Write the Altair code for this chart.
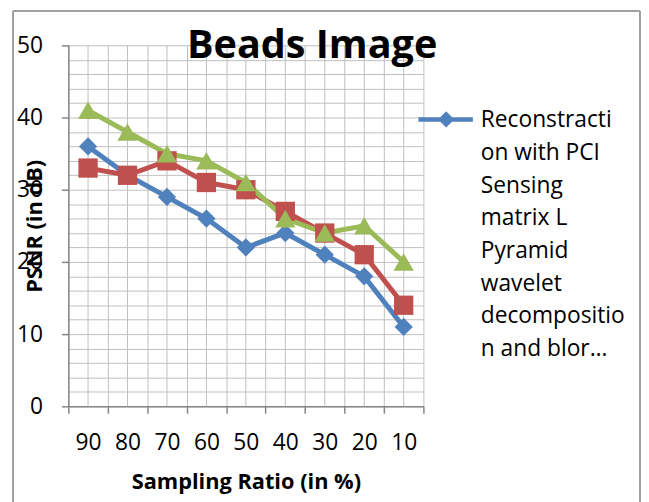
import altair as alt
import pandas as pd

categories = ["90", "80", "70", "60", "50", "40", "30", "20", "10"]
series_names = [
    "Reconstraction with PCI Sensing matrix L Pyramid wavelet decomposition and blor…",
    "Series 2",
    "Series 3",
]
blue = [36, 32, 29, 26, 22, 24, 21, 18, 11]
red = [33, 32, 34, 31, 30, 27, 24, 21, 14]
green = [41, 38, 35, 34, 31, 26, 24, 25, 20]
colors = ["#4F81BD", "#C0504D", "#9BBB59"]
shapes = ["diamond", "square", "triangle-up"]
sizes = [340, 420, 520]
legend_lines = ["Reconstracti", "on with PCI", "Sensing", "matrix L",
                "Pyramid", "wavelet", "decompositio", "n and blor…"]
y_grid_values = list(range(0, 51, 2))

rows = []
for name, vals in zip(series_names, [blue, red, green]):
    for c, v in zip(categories, vals):
        rows.append({"ratio": c, "psnr": v, "series": name})
df = pd.DataFrame(rows)
cat_df = pd.DataFrame({"ratio": categories})
legend_df = pd.DataFrame({"series": [series_names[0]]})

FONT = "Open Sans"
AXC = "#868686"
GRID = "#BFBFBF"

x_scale = alt.Scale(type="band", domain=categories, paddingInner=0, paddingOuter=0)
x_axis = alt.Axis(
    title="Sampling Ratio (in %)", tickBand="extent", grid=True, gridColor=GRID,
    labelAngle=0, labelFontSize=23, labelPadding=19, tickSize=7,
    titleFontSize=22, titleFontWeight="bold", titleY=76, titleBaseline="middle",
)
y_axis = alt.Axis(
    title="PSNR (in dB)", values=y_grid_values, grid=True, gridColor=GRID,
    labelExpr="datum.value % 10 === 0 ? datum.label : ''",
    tickOpacity={"condition": {"test": "datum.value % 10 === 0", "value": 1}, "value": 0},
    labelFontSize=23, labelPadding=19, tickSize=7,
    titleFontSize=22, titleFontWeight="bold", titleX=-34, titleY=182.5,
    titleBaseline="middle", titleAngle=270, titleAlign="center",
)

x_enc = alt.X("ratio:N", sort=categories, scale=x_scale, axis=x_axis)
y_scale = alt.Scale(domain=[0, 50], nice=False)
color_scale = alt.Scale(domain=series_names, range=colors)

center_rules = alt.Chart(cat_df).mark_rule(color=GRID, strokeWidth=1).encode(
    x=x_enc,
    y=alt.Y(datum=0, scale=y_scale, axis=y_axis),
    y2=alt.Y2(datum=50),
)

lines = alt.Chart(df).mark_line(strokeWidth=5).encode(
    x=x_enc,
    y=alt.Y("psnr:Q", scale=y_scale, axis=y_axis),
    color=alt.Color("series:N", scale=color_scale, legend=None),
    detail="series:N",
)

points = alt.Chart(df).mark_point(filled=True, opacity=1).encode(
    x=x_enc,
    y=alt.Y("psnr:Q", scale=y_scale, axis=y_axis),
    color=alt.Color("series:N", scale=color_scale, legend=None),
    shape=alt.Shape("series:N", scale=alt.Scale(domain=series_names, range=shapes), legend=None),
    size=alt.Size("series:N", scale=alt.Scale(domain=series_names, range=sizes), legend=None),
)

# legend (only the first series is listed, as in the original)
leg_line = alt.Chart(legend_df).mark_rule(strokeWidth=4.5, color=colors[0]).encode(
    x=alt.value(354), x2=alt.value(409), y=alt.value(75),
)
leg_marker = alt.Chart(legend_df).mark_point(
    shape="diamond", filled=True, opacity=1, color=colors[0], size=270
).encode(x=alt.value(382), y=alt.value(75))
leg_text = alt.Chart(legend_df).mark_text(
    align="left", baseline="alphabetic", font=FONT, fontSize=23, lineHeight=33,
    color="black",
).encode(x=alt.value(417), y=alt.value(83), text=alt.value(legend_lines))

border = alt.Chart(cat_df).mark_rect(fill=None, stroke="#A0A0A0", strokeWidth=1).encode(
    x=alt.value(-56), x2=alt.value(578), y=alt.value(-34.5), y2=alt.value(470),
)

chart = alt.layer(border, center_rules, lines, points, leg_line, leg_marker, leg_text).properties(
    width=359, height=365,
    title=alt.Title("Beads Image", font=FONT, fontSize=40, fontWeight="bold",
                    anchor="middle", frame="group", dx=67, dy=88,
                    baseline="alphabetic", offset=0, color="black"),
    autosize=alt.AutoSizeParams(type="none"),
    padding={"left": 61, "top": 35, "right": 220, "bottom": 94},
).configure_view(stroke=None).configure_axis(
    domainColor=AXC, domainWidth=1.5, tickColor=AXC, tickWidth=1.5,
    labelFont=FONT, titleFont=FONT, labelColor="black", titleColor="black",
)

chart.save("out.html", embed_options={"renderer": "svg", "actions": False})
